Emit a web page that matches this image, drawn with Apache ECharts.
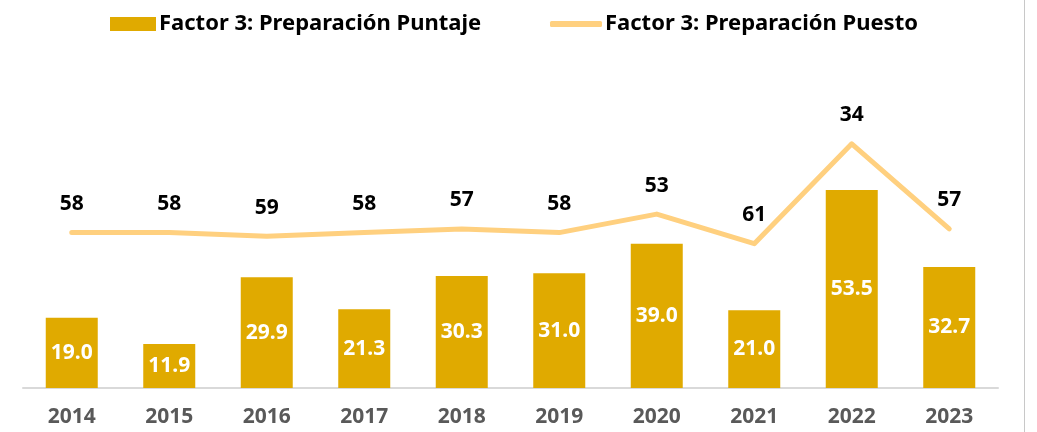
<!DOCTYPE html>
<html>
<head>
<meta charset="utf-8">
<script src="https://cdn.jsdelivr.net/npm/echarts@6/dist/echarts.min.js"></script>
<style>
  html, body { margin: 0; padding: 0; background: #fff; }
  #wrap { width: 1024px; height: 432px; border-right: 1px solid #c8c8c8; }
  #chart { width: 1037px; height: 432px; }
</style>
</head>
<body>
<div id="wrap"><div id="chart"></div></div>
<script>
const years = ['2014', '2015', '2016', '2017', '2018', '2019', '2020', '2021', '2022', '2023']
const puntaje = [19.0, 11.9, 29.9, 21.3, 30.3, 31.0, 39.0, 21.0, 53.5, 32.7]
const puesto = [58, 58, 59, 58, 57, 58, 53, 61, 34, 57]

const BAR_COLOR = '#E0AA00'
const LINE_COLOR = '#FFD07F'
const FONT = 'Noto Sans'
const NAME_BAR = 'Factor 3: Preparación Puntaje'
const NAME_LINE = 'Factor 3: Preparación Puesto'

const legendText = { fontSize: 22, fontWeight: 'bold', color: '#000', fontFamily: FONT, padding: [0, 0, 0, -2] }

const chart = echarts.init(document.getElementById('chart'))
chart.setOption({
  animation: false,
  textStyle: { fontFamily: FONT },
  legend: [
    {
      top: 8,
      left: 105,
      itemWidth: 46,
      itemHeight: 14,
      textStyle: legendText,
      data: [{ name: NAME_BAR, icon: 'rect' }]
    },
    {
      top: 8,
      left: 545,
      itemWidth: 52,
      itemHeight: 6,
      textStyle: legendText,
      data: [{ name: NAME_LINE, icon: 'roundRect', itemStyle: { color: LINE_COLOR, opacity: 1 } }]
    }
  ],
  grid: { left: 23, right: 39, top: 18, bottom: 44 },
  xAxis: {
    type: 'category',
    data: years,
    axisLine: { lineStyle: { color: '#D9D9D9', width: 2 } },
    axisTick: { show: false },
    axisLabel: { color: '#595959', fontSize: 21, fontWeight: 'bold', margin: 19, fontFamily: FONT }
  },
  yAxis: [
    { type: 'value', min: 0, max: 100, show: false, splitLine: { show: false } },
    { type: 'value', min: 0, max: 100, inverse: true, show: false, splitLine: { show: false } }
  ],
  series: [
    {
      name: NAME_BAR,
      type: 'bar',
      data: puntaje,
      barWidth: 52,
      itemStyle: { color: BAR_COLOR },
      label: {
        show: true,
        position: 'inside',
        color: '#fff',
        fontSize: 21,
        fontWeight: 'bold',
        fontFamily: FONT,
        formatter: p => p.value.toFixed(1)
      }
    },
    {
      name: NAME_LINE,
      type: 'line',
      yAxisIndex: 1,
      data: puesto,
      symbol: 'circle',
      symbolSize: 0.1,
      itemStyle: { color: LINE_COLOR },
      lineStyle: { color: LINE_COLOR, width: 5, cap: 'round', join: 'round' },
      label: {
        show: true,
        position: 'top',
        distance: 18,
        color: '#000',
        fontSize: 21,
        fontWeight: 'bold',
        fontFamily: FONT
      }
    }
  ]
})
</script>
</body>
</html>
